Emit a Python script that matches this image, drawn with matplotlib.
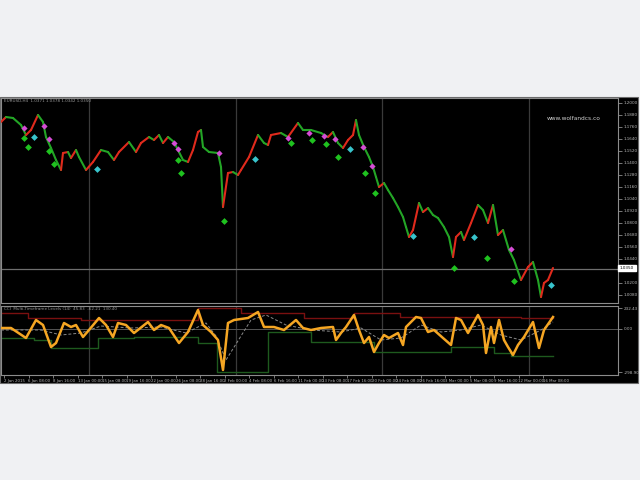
import numpy as np
import matplotlib
matplotlib.use("Agg")
import matplotlib.pyplot as plt
from matplotlib.collections import LineCollection
from matplotlib.patches import Rectangle
from matplotlib.transforms import blended_transform_factory

# ---------------- data ----------------
price_t = [0, 5, 12, 20, 25, 30, 37, 42, 45, 50, 55, 60, 62, 67, 70, 75, 78, 85, 92, 100,
           107, 113, 118, 128, 135, 140, 148, 153, 158, 162, 167, 173, 177, 182, 187, 192,
           197, 200, 202, 208, 217, 220, 222, 227, 232, 237, 240, 248, 257, 263, 267, 270,
           280, 287, 297, 302, 310, 320, 327, 332, 337, 342, 347, 352, 355, 358, 363, 368,
           372, 375, 378, 383, 387, 392, 397, 402, 405, 408, 412, 418, 422, 427, 432, 437,
           443, 448, 452, 455, 460, 463, 470, 477, 482, 487, 492, 497, 502, 508, 513, 520,
           527, 532, 537, 540, 543, 547, 552]
price_v = [1181, 1186, 1185, 1178, 1168, 1173, 1188, 1181, 1166, 1155, 1143, 1133, 1150, 1151,
           1145, 1153, 1146, 1133, 1141, 1153, 1151, 1143, 1151, 1161, 1151, 1160, 1166, 1163,
           1168, 1160, 1166, 1161, 1153, 1143, 1141, 1153, 1171, 1173, 1156, 1151, 1150, 1136,
           1096, 1130, 1131, 1128, 1133, 1146, 1168, 1160, 1158, 1168, 1170, 1166, 1180, 1173,
           1173, 1170, 1166, 1171, 1160, 1155, 1163, 1168, 1183, 1168, 1156, 1146, 1136, 1126,
           1116, 1120, 1113, 1105, 1096, 1086, 1076, 1066, 1073, 1100, 1091, 1095, 1088, 1085,
           1076, 1066, 1046, 1066, 1071, 1063, 1080, 1098, 1093, 1080, 1098, 1068, 1073, 1053,
           1043, 1023, 1036, 1041, 1023, 1006, 1020, 1023, 1035]

magenta_t = [23, 43, 48, 173, 177, 218, 287, 308, 323, 334, 362, 371, 510]
magenta_v = [1175, 1177, 1164, 1160, 1154, 1150, 1165, 1170, 1167, 1164, 1156, 1137, 1054]
cyan_t = [33, 96, 254, 349, 412, 473, 550]
cyan_v = [1166, 1134, 1144, 1154, 1067, 1066, 1018]
green_t = [23, 27, 48, 53, 177, 180, 223, 290, 311, 325, 337, 364, 374, 453, 486, 513]
green_v = [1165, 1156, 1152, 1139, 1143, 1130, 1082, 1160, 1163, 1159, 1146, 1130, 1110,
           1035, 1045, 1022]

osc_t = [0, 10, 25, 35, 42, 50, 55, 63, 70, 75, 82, 88, 98, 105, 112, 117, 125, 133, 147,
         153, 160, 168, 178, 187, 197, 202, 210, 217, 222, 227, 233, 247, 257, 263, 273, 283,
         295, 302, 310, 320, 332, 335, 340, 345, 353, 358, 363, 368, 373, 378, 383, 388, 397,
         402, 405, 415, 420, 427, 433, 442, 450, 455, 460, 467, 477, 482, 485, 490, 493, 498,
         503, 507, 512, 517, 523, 532, 538, 543, 552]
osc_v = [1, 1, -9, 9, 4, -18, -14, 6, 2, 4, -8, -1, 11, 4, -8, 6, 4, -4, 7, -1, 4, 1, -14,
         -3, 19, 4, -3, -11, -41, 6, 9, 11, 17, 2, 2, -1, 9, 1, -1, 1, 2, -11, -4, 2, 14, -1,
         -14, -8, -23, -14, -6, -9, -4, -16, 2, 12, 11, -3, -1, -9, -16, 11, 9, -4, 14, 4,
         -24, 2, -14, 9, -11, -18, -26, -16, -8, 7, -19, -1, 12]

ma_t = [0, 40, 60, 80, 100, 130, 160, 185, 205, 215, 225, 250, 265, 285, 310, 340, 360, 380,
        400, 420, 440, 460, 480, 500, 520, 540, 552]
ma_v = [-1, -1, -6, -4, 3, 1, 2, -4, 6, -7, -31, 9, 14, 4, -1, -3, 1, -11, -9, 4, -3, -1, 4,
        -6, -11, -1, 7]

upper_t = [0, 27, 80, 197, 240, 303, 353, 399, 520, 552]
upper_v = [16, 11, 9, 21, 16, 11, 16, 12, 11, 11]
lower_t = [0, 33, 50, 97, 133, 197, 216, 267, 310, 373, 450, 493, 510, 552]
lower_v = [-9, -11, -19, -9, -8, -14, -43, -3, -13, -23, -18, -24, -27, -27]

grid_t = [88, 235, 381, 528]
bid_level = 1034
last_price = 1035

date_labels = ["2 Jan 2015", "6 Jan 08:00", "8 Jan 16:00", "13 Jan 00:00", "15 Jan 08:00",
               "19 Jan 16:00", "22 Jan 00:00", "26 Jan 08:00", "28 Jan 16:00", "2 Feb 00:00",
               "4 Feb 08:00", "6 Feb 16:00", "11 Feb 00:00", "13 Feb 08:00", "17 Feb 16:00",
               "20 Feb 00:00", "24 Feb 08:00", "26 Feb 16:00", "3 Mar 00:00", "5 Mar 08:00",
               "9 Mar 16:00", "12 Mar 00:00", "16 Mar 08:00"]
date_t = [3 + 24.5 * i for i in range(len(date_labels))]

price_ticks = list(range(1008, 1205, 12))
osc_ticks = [21, 0, -43]
osc_tick_labels = ["232.43", "0.00", "-298.90"]

# ---------------- figure ----------------
W, H = 640, 480
fig = plt.figure(figsize=(6.4, 4.8), dpi=100, facecolor="#f0f1f3")
bg = Rectangle((0, 1 - 383 / H), 638 / W, (383 - 97) / H,
               transform=fig.transFigure, facecolor="black",
               edgecolor="#6a6a6a", lw=0.8, zorder=-10)
fig.patches.append(bg)

L = 1 / W
AW = 617 / W
ax1 = fig.add_axes([L, 1 - 303 / H, AW, (303 - 98) / H])
ax2 = fig.add_axes([L, 1 - 375 / H, AW, (375 - 306) / H])

for ax in (ax1, ax2):
    ax.set_facecolor("black")
    for s in ax.spines.values():
        s.set_color("#8c8c8c")
        s.set_linewidth(0.8)
    ax.set_xlim(0, 617)
    ax.yaxis.tick_right()
    ax.tick_params(axis="y", colors="#8c8c8c", labelcolor="#b8b8b8", length=3,
                   width=0.6, labelsize=3, pad=1)
    for g in grid_t:
        ax.axvline(g, color="#3a3a3a", lw=0.9, zorder=1)

# main panel
ax1.set_ylim(1000, 1205)
ax1.set_xticks([])
ax1.set_yticks(price_ticks)
ax1.set_yticklabels([f"{v / 1000:.4f}" for v in price_ticks])
ax1.axhline(bid_level, color="#6e6e6e", lw=0.9, zorder=1)

pts = np.column_stack([price_t, price_v])
segs = np.stack([pts[:-1], pts[1:]], axis=1)
dv = np.diff(price_v)
cols = ["#e02a1c" if d > 0 else "#23a526" for d in dv]
ax1.add_collection(LineCollection(segs, colors=cols, linewidths=1.5, zorder=3,
                                  capstyle="round", joinstyle="round"))

ax1.scatter(magenta_t, magenta_v, marker="D", s=10, color="#d64cd6", zorder=4, lw=0)
ax1.scatter(cyan_t, cyan_v, marker="D", s=12, color="#38c4cc", zorder=4, lw=0)
ax1.scatter(green_t, green_v, marker="D", s=12, color="#1fc21f", zorder=4, lw=0)

tr = blended_transform_factory(ax1.transAxes, ax1.transData)
ax1.text(1.003, last_price, f"{last_price / 1000:.4f}", transform=tr, fontsize=3,
         color="black", va="center", ha="left",
         bbox=dict(boxstyle="square,pad=0.35", fc="white", ec="white"), zorder=6)

fig.text(4 / W, 1 - 101.5 / H, "EURUSD,H4  1.0371 1.0378 1.0342 1.0350", fontsize=3,
         color="#9a9a9a", va="center", ha="left")
fig.text(574 / W, 1 - 118 / H, "www.wolfandcs.co", fontsize=4.2, color="#d0d0d0",
         va="center", ha="center")

# indicator panel
ax2.set_ylim(-46, 23)
ax2.set_yticks(osc_ticks)
ax2.set_yticklabels(osc_tick_labels)
ax2.axhline(0, color="#555555", lw=0.7, zorder=1)
ax2.step(upper_t, upper_v, where="post", color="#7a1010", lw=1.0, zorder=2)
ax2.step(lower_t, lower_v, where="post", color="#1e5a1e", lw=1.0, zorder=2)
ax2.plot(ma_t, ma_v, color="#8a8a8a", lw=0.7, ls=(0, (3, 2)), zorder=2)
ax2.plot(osc_t, osc_v, color="#f5a623", lw=1.8, zorder=3, solid_joinstyle="round")
fig.text(4 / W, 1 - 308.5 / H, "CCI  Multi-Timeframe Levels (14)  45.83  -62.21  130.40",
         fontsize=3, color="#9a9a9a", va="center", ha="left")

ax2.set_xticks(date_t)
ax2.set_xticklabels(date_labels)
ax2.tick_params(axis="x", colors="#8c8c8c", labelcolor="#b8b8b8", length=2, width=0.6,
                labelsize=2.8, pad=1)
for lab in ax2.get_xticklabels():
    lab.set_ha("left")

fig.savefig("out.png", dpi=100, facecolor=fig.get_facecolor())
